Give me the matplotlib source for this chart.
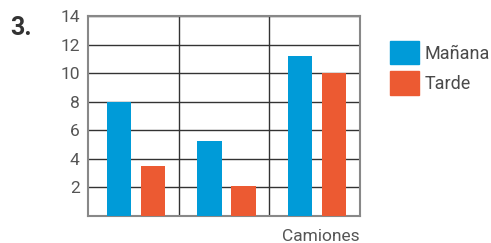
import matplotlib.pyplot as plt
from matplotlib.patches import Patch
import numpy as np

grupos = ['', '', 'Camiones']
manana = [8, 5.25, 11.2]
tarde = [3.5, 2.1, 10]
yticks = [2, 4, 6, 8, 10, 12, 14]

azul = '#009bd8'
naranja = '#ec5a32'
gris = '#4a4a4a'

plt.rcParams['font.family'] = ['Roboto', 'DejaVu Sans']

fig = plt.figure(figsize=(4.91, 2.43), dpi=100)
ax = fig.add_axes([88 / 491, 27 / 243, 272 / 491, 200 / 243])

x = np.arange(len(grupos))
ax.bar(x + 0.34, manana, width=0.265, color=azul, zorder=3)
ax.bar(x + 0.715, tarde, width=0.265, color=naranja, zorder=3)

ax.set_xlim(0, 3)
ax.set_ylim(0, 14)
ax.set_yticks(yticks)
ax.set_yticklabels([str(v) for v in yticks], fontsize=12.5, color='#555555')
ax.set_xticks([1, 2])
ax.set_xticklabels([])
ax.tick_params(length=0, pad=6)
ax.grid(True, color='#333333', linewidth=1, zorder=1)
for s in ax.spines.values():
    s.set_color('#888888')
    s.set_linewidth(1.5)

ax.set_xlabel('Camiones', loc='right', fontsize=12.5, color='#555555', labelpad=3)

fig.text(10 / 491, 1 - 28 / 243, '3.', fontsize=18, fontweight='bold', color='#333333', va='center')

handles = [Patch(color=azul), Patch(color=naranja)]
fig.legend(handles, ['Mañana', 'Tarde'], loc='upper left', bbox_to_anchor=(390 / 491, 1 - 41 / 243),
           frameon=False, fontsize=13, handlelength=1.6, handleheight=1.6, labelspacing=0.4,
           handletextpad=0.3, borderpad=0, borderaxespad=0, labelcolor=gris)

fig.savefig('out.png', dpi=100)
